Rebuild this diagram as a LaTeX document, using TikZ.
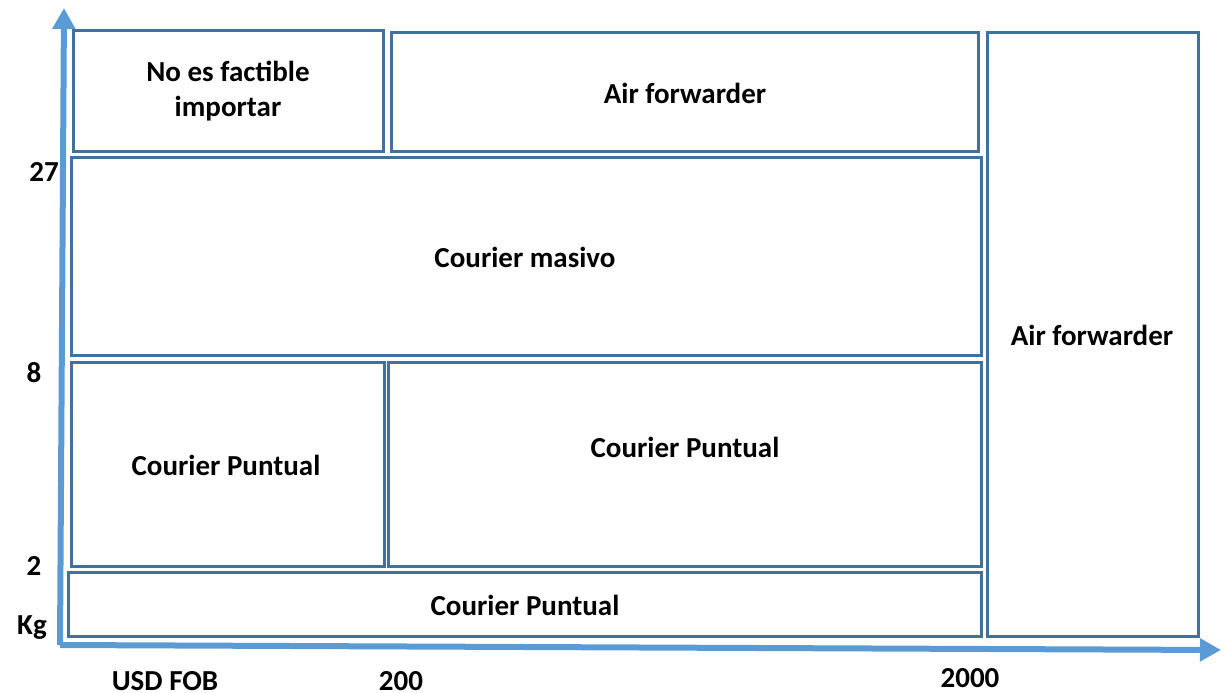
\documentclass[tikz,border=0pt]{standalone}
\usepackage{fontspec}
\setmainfont{Carlito}
\usetikzlibrary{arrows.meta}
\definecolor{boxblue}{RGB}{65,113,156}
\definecolor{axisblue}{RGB}{91,155,213}
\tikzset{
  region/.style={draw=boxblue, line width=3pt, fill=white, inner sep=0pt},
  lbl/.style={font=\fontsize{29}{35}\selectfont\bfseries, align=center, text=black},
  ticklbl/.style={font=\fontsize{29}{35}\selectfont\bfseries, text=black},
  axis/.style={draw=axisblue, line width=6pt, -{Triangle[width=22pt,length=21pt]}}
}
\begin{document}
\begin{tikzpicture}[x=1pt,y=-1pt]
\useasboundingbox (0,0) rectangle (1224,693);
% axes
\coordinate (o) at (60,645);
\coordinate (ytip) at (64,8);
\coordinate (xtip) at (1221,650);
\draw[axis] (o) -- (ytip);
\draw[axis] (o) -- (xtip);
% regions
\node[region, minimum width=310pt, minimum height=120pt] (nf) at (228,91) {};
\node[region, minimum width=587pt, minimum height=118pt] (af1) at (684.5,92) {};
\node[region, minimum width=910pt, minimum height=198pt] (cm) at (526,256) {};
\node[region, minimum width=313pt, minimum height=204pt] (cp1) at (227.5,464) {};
\node[region, minimum width=593pt, minimum height=204pt] (cp2) at (684.5,464) {};
\node[region, minimum width=913pt, minimum height=64pt] (cp3) at (524.5,604) {};
\node[region, minimum width=211pt, minimum height=603pt] (af2) at (1092.5,334.5) {};
% labels
\node[lbl] (tnf) at (228,91) {No es factible\\importar};
\node[lbl] (taf1) at (685,93) {Air forwarder};
\node[lbl] (tcm) at (525,257) {Courier masivo};
\node[lbl] (tcp1) at (226,465) {Courier Puntual};
\node[lbl] (tcp2) at (685,447) {Courier Puntual};
\node[lbl] (tcp3) at (525,605) {Courier Puntual};
\node[lbl] (taf2) at (1092,335) {Air forwarder};
% tick labels
\node[ticklbl] (y27) at (44,172) {27};
\node[ticklbl] (y8) at (34,373) {8};
\node[ticklbl] (y2) at (34,566) {2};
\node[ticklbl] (ykg) at (32,628) {Kg};
\node[ticklbl] (xusd) at (165,681) {USD FOB};
\node[ticklbl] (x200) at (401,681) {200};
\node[ticklbl] (x2000) at (970,678) {2000};
\end{tikzpicture}
\end{document}
